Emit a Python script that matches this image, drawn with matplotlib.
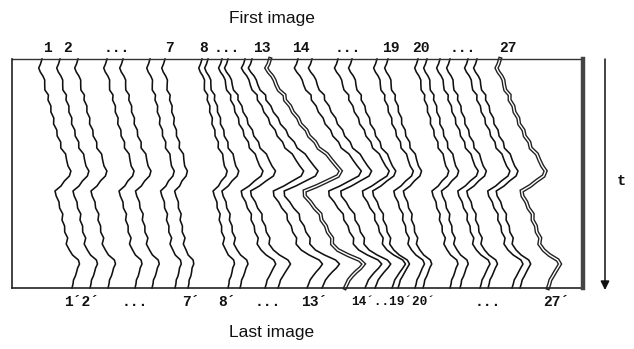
import matplotlib
matplotlib.use("Agg")
import matplotlib.pyplot as plt
import numpy as np

# ---- data ----
# x position (px) of each of the 27 tracks at the first image (top) and last image (bottom)
track_start = [42, 60, 78, 107, 123, 150, 165, 202, 208, 222, 228, 245, 252, 270,
               298, 312, 338, 352, 377, 388, 418, 427, 440, 450, 468, 477, 500]
track_end = [72, 90, 108, 135, 152, 175, 188, 228, 240, 265, 278, 307, 322, 345,
             365, 375, 392, 398, 415, 423, 450, 460, 480, 488, 512, 520, 548]
double_tracks = [13, 26]  # zero-based indices drawn as hollow double lines

# time axis samples (image rows, px) and common drift profile (fraction of total drift)
t_rows = [59, 64, 68, 72, 76, 80, 85, 90, 95, 100, 106, 112, 118, 124, 130, 136, 142,
          148, 154, 160, 166, 171, 176, 181, 186, 191, 196, 202, 208, 214, 220, 226,
          232, 238, 244, 250, 255, 260, 264, 268, 272, 276, 280, 284, 288]
drift = [0.00, 0.00, -0.01, 0.01, 0.03, 0.04, 0.08, 0.13, 0.18, 0.20, 0.25, 0.31, 0.36,
         0.42, 0.48, 0.53, 0.59, 0.66, 0.74, 0.82, 0.90, 0.93, 0.90, 0.78, 0.62, 0.48,
         0.46, 0.52, 0.60, 0.66, 0.70, 0.74, 0.78, 0.81, 0.84, 0.90, 1.05, 1.18, 1.25,
         1.22, 1.14, 1.08, 1.05, 1.02, 1.00]
# small zig-zag of the tracked contour (px)
wiggle = [0, -1.5, -3, -2, 0, 1.5, 0.3, -1, 1, 0, 1.4, -0.4, 1, -1, 0.4, -0.7, 1,
          -1, 1.4, 0, -1, 1, 0.4, -1, 0.4, -1.4, 0.4, 1.4, -0.4, 1, -1, 0.4, -0.7,
          1.4, -1, 0.4, -1, 1, 0, -1, 0.4, 1, 0, 0.4, 0]

top_labels = ["1", "2", "...", "7", "8", "...", "13", "14", "...", "19", "20", "...", "27"]
top_label_x = [47, 67, 117, 170, 204, 227, 262, 301, 348, 391, 421, 463, 508]
bot_labels = ["1´2´", "...", "7´", "8´", "...", "13´", "14´..19´20´", "...", "27´"]
bot_label_x = [82, 135, 191, 227, 268, 314, 393, 488, 556]
bot_label_size = [10.5, 10.5, 10.5, 10.5, 10.5, 10.5, 9.2, 10.5, 10.5]

frame = dict(left=12, right=583, top=59, bottom=288)

# ---- figure ----
W, H = 634, 349
fig = plt.figure(figsize=(W / 100, H / 100), dpi=100)
ax = fig.add_axes([0, 0, 1, 1])
ax.set_xlim(0, W)
ax.set_ylim(H, 0)
ax.axis("off")

rows = np.array(t_rows, dtype=float)
prof = np.array(drift)
wig = np.array(wiggle)
for i, (s, e) in enumerate(zip(track_start, track_end)):
    xs = s + (e - s) * prof + wig
    if i in double_tracks:
        ax.plot(xs, rows, color="#222222", lw=3.0, solid_joinstyle="miter")
        ax.plot(xs, rows, color="white", lw=1.0)
    else:
        ax.plot(xs, rows, color="#111111", lw=1.15)

# frame
L, R, T, B = frame["left"], frame["right"], frame["top"], frame["bottom"]
ax.plot([L, R], [T, T], color="#333333", lw=1.0)
ax.plot([L, R], [B, B], color="#222222", lw=1.2)
ax.plot([L, L], [T, B], color="#222222", lw=1.2)
ax.plot([R, R], [T, B], color="#444444", lw=3.2)

# time arrow
ax.annotate("", xy=(605, 290), xytext=(605, 59),
            arrowprops=dict(arrowstyle="-|>", color="#111111", lw=1.1,
                            mutation_scale=13, shrinkA=0, shrinkB=0))
mono = ["Liberation Mono", "DejaVu Sans Mono"]
ax.text(621, 181, "t", family=mono, fontweight="bold", fontsize=11,
        ha="center", va="center", color="#111111")

for s, x in zip(top_labels, top_label_x):
    ax.text(x, 48, s, family=mono, fontweight="bold", fontsize=10.5,
            ha="center", va="center", color="#111111")
for s, x, fs in zip(bot_labels, bot_label_x, bot_label_size):
    ax.text(x, 302, s, family=mono, fontweight="bold", fontsize=fs,
            ha="center", va="center", color="#111111")

ax.text(272, 18, "First image", family=["Liberation Sans", "DejaVu Sans"],
        fontsize=12.5, ha="center", va="center", color="#111111")
ax.text(272, 333, "Last image", family=["Liberation Sans", "DejaVu Sans"],
        fontsize=12.5, ha="center", va="center", color="#111111")

fig.savefig("out.png", dpi=100, facecolor="white")
